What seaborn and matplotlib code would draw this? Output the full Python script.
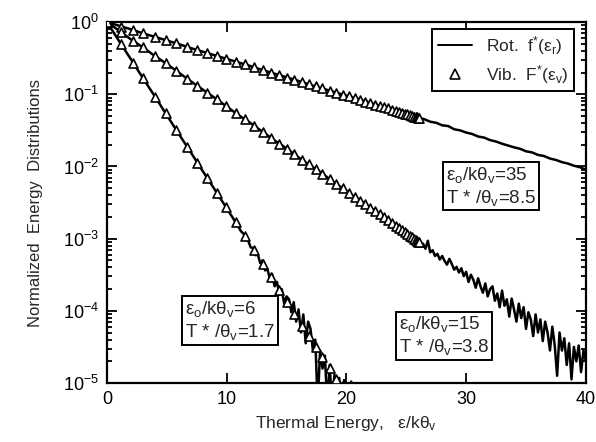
import numpy as np
import pandas as pd
import matplotlib
matplotlib.use("Agg")
import matplotlib.pyplot as plt
from matplotlib.lines import Line2D
import seaborn as sns

# ---------------- data (log10 of the normalized distributions) ----------------
# rotational distributions f*(eps_r), three cases
rot1_x = [0, 1, 2, 3, 4, 5, 6, 7, 8, 9, 10, 11, 12, 13, 14, 15, 16, 17, 18, 19, 20,
          21, 22, 23, 24, 25, 26, 26.5, 27, 27.5, 28, 28.5, 29, 29.5, 30, 30.5, 31,
          31.5, 32, 32.5, 33, 33.5, 34, 34.5, 35, 35.5, 36, 36.5, 37, 37.5, 38, 38.5,
          39, 39.5, 40]
rot1_log = [0.0, -0.05, -0.10, -0.155, -0.205, -0.255, -0.305, -0.36, -0.41, -0.46,
            -0.51, -0.56, -0.61, -0.665, -0.715, -0.765, -0.815, -0.87, -0.92, -0.97,
            -1.02, -1.07, -1.12, -1.175, -1.225, -1.275, -1.325, -1.345, -1.38, -1.395,
            -1.43, -1.44, -1.485, -1.50, -1.53, -1.55, -1.585, -1.60, -1.635, -1.655,
            -1.685, -1.71, -1.735, -1.755, -1.79, -1.805, -1.84, -1.855, -1.89, -1.91,
            -1.94, -1.96, -1.99, -2.01, -2.045]

rot2_x = [0, 1, 2, 3, 4, 5, 6, 7, 8, 9, 10, 11, 12, 13, 14, 15, 16, 17, 18, 19, 20,
          21, 22, 23,
          24.0, 24.2, 24.4, 24.6, 24.8, 25.0, 25.2, 25.4, 25.6, 25.8, 26.0, 26.2, 26.4,
          26.6, 26.8, 27.0, 27.2, 27.4, 27.6, 27.8, 28.0, 28.2, 28.4, 28.6, 28.8, 29.0,
          29.2, 29.4, 29.6, 29.8, 30.0, 30.2, 30.4, 30.6, 30.8, 31.0, 31.2, 31.4, 31.6,
          31.8, 32.0, 32.2, 32.4, 32.6, 32.8, 33.0, 33.2, 33.4, 33.6, 33.8, 34.0, 34.2,
          34.4, 34.6, 34.8, 35.0, 35.2, 35.4, 35.6, 35.8, 36.0, 36.2, 36.4, 36.6, 36.8,
          37.0, 37.2, 37.4, 37.6, 37.8, 38.0, 38.2, 38.4, 38.6, 38.8, 39.0, 39.2, 39.4,
          39.6, 39.8, 40.0]
rot2_log = [0.0, -0.117, -0.24, -0.35, -0.47, -0.58, -0.70, -0.82, -0.935, -1.05,
            -1.17, -1.29, -1.40, -1.52, -1.64, -1.75, -1.875, -1.99, -2.10, -2.225,
            -2.34, -2.46, -2.57, -2.69,
            -2.80, -2.84, -2.85, -2.89, -2.90, -2.93, -2.94, -2.99, -2.99, -3.03, -3.04,
            -3.08, -3.07, -3.14, -3.03, -3.19, -3.16, -3.24, -3.21, -3.29, -3.24, -3.31,
            -3.36, -3.28, -3.35, -3.43, -3.39, -3.47, -3.41, -3.52, -3.46, -3.60, -3.50,
            -3.57, -3.68, -3.55, -3.66, -3.75, -3.62, -3.80, -3.70, -3.66, -3.86, -3.76,
            -3.95, -3.72, -3.93, -3.84, -4.08, -3.83, -3.98, -4.15, -3.90, -4.10, -3.95,
            -4.25, -4.02, -4.12, -4.35, -4.05, -4.30, -4.12, -4.42, -4.15, -4.30, -4.55,
            -4.22, -4.48, -4.90, -4.30, -4.55, -4.38, -4.75, -4.45, -4.95, -4.50, -4.70,
            -4.48, -4.85, -4.55, -4.70]

rot3_x = [0, 1, 2, 3, 4, 5, 6, 7, 8, 9, 10,
          11.0, 11.2, 11.4, 11.6, 11.8, 12.0, 12.2, 12.4, 12.6, 12.8, 13.0, 13.2, 13.4,
          13.6, 13.8, 14.0, 14.2, 14.4, 14.6, 14.8, 15.0, 15.2, 15.4, 15.6, 15.8, 16.0,
          16.2, 16.4, 16.6, 16.8, 17.0, 17.2, 17.4, 17.6, 17.8, 18.0, 18.2, 18.4, 18.6,
          18.8, 19.0, 19.2, 19.4, 19.6, 19.8, 20.0, 20.4, 20.6]
rot3_log = [0.0, -0.26, -0.515, -0.775, -1.03, -1.29, -1.55, -1.805, -2.065, -2.32,
            -2.58,
            -2.84, -2.90, -2.93, -3.01, -3.03, -3.12, -3.13, -3.23, -3.22, -3.34, -3.30,
            -3.44, -3.42, -3.55, -3.49, -3.66, -3.60, -3.78, -3.70, -3.90, -3.80, -3.84,
            -4.02, -3.88, -4.15, -3.98, -4.30, -4.05, -4.45, -4.15, -4.25, -4.55, -4.40,
            -5.30, -4.55, -4.80, -4.62, -5.30, -4.75, -5.30, -4.88, -5.30, -4.93, -5.30,
            -4.96, -5.30, -4.98, -5.30]

# vibrational distributions F*(eps_v) at the vibrational levels
vib_x = [0, 1.2, 2.2, 3.0, 4.0, 4.9, 5.8, 6.7, 7.55, 8.35, 9.15, 9.95, 10.75, 11.5,
         12.25, 13.0, 13.7, 14.4, 15.05, 15.65, 16.3, 16.85, 17.45, 18.0, 18.6, 19.15,
         19.7, 20.2, 20.68, 21.14, 21.58, 22.0, 22.4, 22.78, 23.14, 23.48, 23.8, 24.1,
         24.38, 24.64, 24.88, 25.1, 25.3, 25.48, 25.64, 25.78, 25.9, 26.0, 26.08]
vib1_log = [0.0, -0.061, -0.112, -0.153, -0.204, -0.250, -0.296, -0.342, -0.385,
            -0.426, -0.467, -0.507, -0.548, -0.587, -0.625, -0.663, -0.699, -0.734,
            -0.768, -0.798, -0.831, -0.859, -0.890, -0.918, -0.949, -0.977, -1.005,
            -1.030, -1.055, -1.078, -1.101, -1.122, -1.142, -1.162, -1.180, -1.197,
            -1.214, -1.229, -1.243, -1.257, -1.269, -1.280, -1.290, -1.299, -1.308,
            -1.315, -1.321, -1.326, -1.330]
vib2_log = [0.0, -0.140, -0.257, -0.351, -0.468, -0.573, -0.679, -0.784, -0.883,
            -0.977, -1.071, -1.164, -1.258, -1.346, -1.433, -1.521, -1.603, -1.685,
            -1.761, -1.831, -1.907, -1.971, -2.042, -2.106, -2.176, -2.241, -2.305,
            -2.363, -2.420, -2.473, -2.525, -2.574, -2.621, -2.665, -2.707, -2.747,
            -2.785, -2.820, -2.852, -2.883, -2.911, -2.937, -2.960, -2.981, -3.000,
            -3.016, -3.030, -3.042, -3.051]
vib3_x = vib_x[:26]
vib3_log = [0.0, -0.310, -0.568, -0.774, -1.032, -1.264, -1.496, -1.729, -1.948,
            -2.154, -2.361, -2.567, -2.774, -2.967, -3.161, -3.354, -3.535, -3.715,
            -3.883, -4.038, -4.205, -4.347, -4.502, -4.644, -4.799, -4.941]

x_ticks = [0, 10, 20, 30, 40]
box_texts = [
    "ε$_\\mathregular{o}$/kθ$_\\mathregular{v}$=35\nT * /θ$_\\mathregular{v}$=8.5",
    "ε$_\\mathregular{o}$/kθ$_\\mathregular{v}$=6\nT * /θ$_\\mathregular{v}$=1.7",
    "ε$_\\mathregular{o}$/kθ$_\\mathregular{v}$=15\nT * /θ$_\\mathregular{v}$=3.8",
]

# ---------------- style ----------------
sns.set_style("ticks")
plt.rcParams["font.family"] = ["Liberation Sans", "DejaVu Sans"]
plt.rcParams["mathtext.fontset"] = "custom"
plt.rcParams["mathtext.rm"] = "Liberation Sans"
plt.rcParams["mathtext.it"] = "Liberation Sans:italic"
plt.rcParams["mathtext.bf"] = "Liberation Sans:bold"
plt.rcParams["axes.unicode_minus"] = False

fig = plt.figure(figsize=(5.96, 4.42), dpi=100)
ax = fig.add_axes([0.1795, 0.1335, 0.8035, 0.8165])

lines = pd.concat([
    pd.DataFrame({"x": rot1_x, "y": 10 ** np.array(rot1_log), "case": "35"}),
    pd.DataFrame({"x": rot2_x, "y": 10 ** np.array(rot2_log), "case": "15"}),
    pd.DataFrame({"x": rot3_x, "y": 10 ** np.array(rot3_log), "case": "6"}),
])
pts = pd.concat([
    pd.DataFrame({"x": vib_x, "y": 10 ** np.array(vib1_log), "case": "35"}),
    pd.DataFrame({"x": vib_x, "y": 10 ** np.array(vib2_log), "case": "15"}),
    pd.DataFrame({"x": vib3_x, "y": 10 ** np.array(vib3_log), "case": "6"}),
])

sns.lineplot(data=lines, x="x", y="y", units="case", estimator=None, sort=False,
             color="black", linewidth=1.8, ax=ax, legend=False)
sns.scatterplot(data=pts, x="x", y="y", marker="^", s=42, facecolor="white",
                edgecolor="black", linewidth=1.2, ax=ax, legend=False, zorder=3)

ax.set_yscale("log")
ax.set_xlim(0, 40)
ax.set_ylim(1e-5, 1)
ax.set_xticks(x_ticks)
ax.set_xticklabels([str(t) for t in x_ticks])

ax.tick_params(axis="both", which="both", direction="in", top=True, right=True,
               width=1.3, colors="black", labelsize=13)
ax.tick_params(axis="both", which="major", length=7)
ax.tick_params(axis="y", which="minor", length=3.5)
ax.tick_params(axis="x", which="major", pad=6)
ax.tick_params(axis="y", which="major", pad=6)
for sp in ax.spines.values():
    sp.set_linewidth(1.6)
    sp.set_color("black")

ax.set_xlabel("Thermal Energy,   ε/kθ$_\\mathregular{v}$", fontsize=12.5, labelpad=4)
ax.set_ylabel("Normalized  Energy  Distributions", fontsize=12, labelpad=14)

handles = [
    Line2D([], [], color="black", linewidth=1.4),
    Line2D([], [], color="black", marker="^", linestyle="none",
           markerfacecolor="white", markersize=7, markeredgewidth=1.2),
]
labels = ["Rot.  f$^\\mathregular{*}$(ε$_\\mathregular{r}$)",
          "Vib.  F$^\\mathregular{*}$(ε$_\\mathregular{v}$)"]
leg = ax.legend(handles, labels, loc="upper right", bbox_to_anchor=(0.975, 0.982),
                frameon=True, fancybox=False, fontsize=12.5, handlelength=2.0,
                borderpad=0.3, labelspacing=0.35, handletextpad=0.8,
                borderaxespad=0.0)
leg.get_frame().set_edgecolor("black")
leg.get_frame().set_linewidth(1.4)
leg.get_frame().set_alpha(1)

box_pos = [(0.708, 0.605), (0.163, 0.232), (0.609, 0.190)]
for txt, (bx, by) in zip(box_texts, box_pos):
    ax.text(bx, by, txt, transform=ax.transAxes, ha="left", va="top", fontsize=13.5,
            linespacing=1.2, zorder=5,
            bbox=dict(boxstyle="square,pad=0.15", facecolor="white",
                      edgecolor="black", linewidth=1.4))

fig.savefig("out.png", dpi=100)
